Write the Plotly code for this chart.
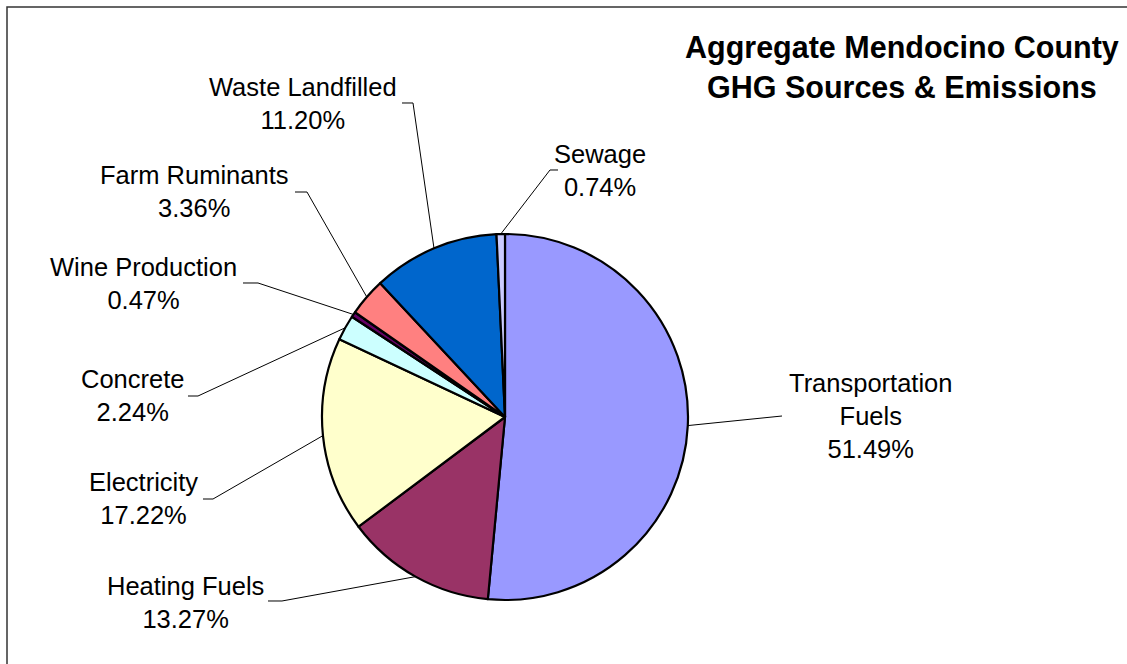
import math
import plotly.graph_objects as go

# ---- data ----
categories = ["Transportation Fuels", "Heating Fuels", "Electricity", "Concrete",
              "Wine Production", "Farm Ruminants", "Waste Landfilled", "Sewage"]
label_text = ["Transportation<br>Fuels", "Heating Fuels", "Electricity", "Concrete",
              "Wine Production", "Farm Ruminants", "Waste Landfilled", "Sewage"]
values = [51.49, 13.27, 17.22, 2.24, 0.47, 3.36, 11.20, 0.74]
colors = ["#9999FF", "#993366", "#FFFFCC", "#CCFFFF",
          "#660066", "#FF8080", "#0066CC", "#CCCCFF"]
title_lines = ["Aggregate Mendocino County", "GHG Sources & Emissions"]

# ---- layout (pixels) ----
W, H = 1127, 664
CX, CY, R = 505, 417, 183
FONT = "Liberation Sans, Arial, sans-serif"
# label centre (x, y) and leader-line elbow points (near end, far end)
label_pos = [(870, 416), (185, 602), (143, 498), (132, 395),
             (143, 283), (194, 191), (303, 103), (600, 170)]
elbows = [[(782, 416)], [(282, 601), (268, 601)], [(213, 499), (203, 499)],
          [(198, 396), (188, 396)], [(258, 283), (243, 283)],
          [(307, 192), (295, 192)], [(413, 103), (402, 103)],
          [(550, 170), (558, 170)]]


def px(x):
    return x / W


def py(y):
    return 1 - y / H


fig = go.Figure(go.Pie(
    labels=categories, values=values, sort=False, direction="clockwise",
    rotation=0, textinfo="none", hoverinfo="label+percent",
    marker=dict(colors=colors, line=dict(color="black", width=2.2)),
    domain=dict(x=[px(CX - R), px(CX + R)], y=[py(CY + R), py(CY - R)]),
    showlegend=False,
))

total = sum(values)
cum = 0.0
shapes = []
annotations = []
for i, v in enumerate(values):
    mid = 2 * math.pi * (cum + v / 2) / total
    cum += v
    ex = CX + R * math.sin(mid)
    ey = CY - R * math.cos(mid)
    pts = [(ex, ey)] + elbows[i]
    path = "M " + " L ".join(f"{px(x):.5f},{py(y):.5f}" for x, y in pts)
    shapes.append(dict(type="path", path=path, xref="paper", yref="paper",
                       line=dict(color="black", width=1)))
    lx, ly = label_pos[i]
    annotations.append(dict(
        text=f"{label_text[i]}<br>{v:.2f}%", x=px(lx), y=py(ly),
        xref="paper", yref="paper", xanchor="center", yanchor="middle",
        align="center", showarrow=False,
        font=dict(family=FONT, size=25.5, color="black")))

annotations.append(dict(
    text="<b>" + "<br>".join(title_lines) + "</b>", x=px(902), y=py(67),
    xref="paper", yref="paper", xanchor="center", yanchor="middle",
    align="center", showarrow=False,
    font=dict(family=FONT, size=30.5, color="black")))

# chart border
shapes.append(dict(type="rect", xref="paper", yref="paper",
                   x0=px(7), x1=1.02, y0=-0.02, y1=py(7),
                   line=dict(color="#333333", width=1.5)))

fig.update_layout(
    width=W, height=H, margin=dict(l=0, r=0, t=0, b=0),
    paper_bgcolor="white", plot_bgcolor="white",
    shapes=shapes, annotations=annotations,
    font=dict(family=FONT),
)

fig.write_html("out.html", config={"displayModeBar": False},
               post_script="document.body.style.margin='0';")
